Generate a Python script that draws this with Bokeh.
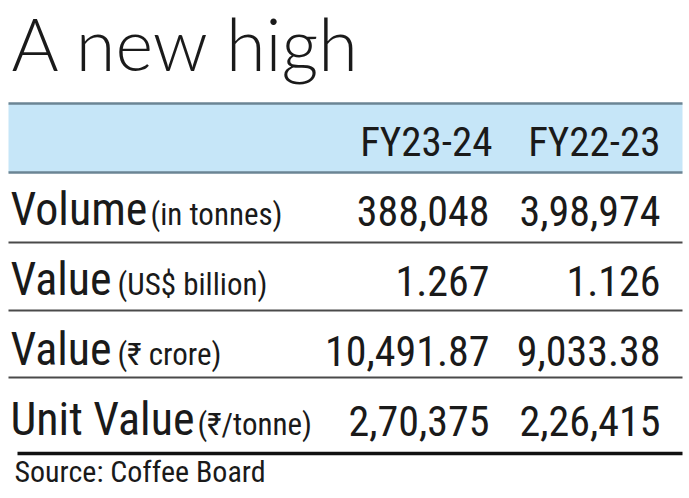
from bokeh.plotting import figure
from bokeh.models import Range1d, ColumnDataSource
from bokeh.core.properties import value
from bokeh.embed import file_html
from bokeh.resources import INLINE

title = "A new high"
columns = ["FY23-24", "FY22-23"]
labels = ["Volume", "Value", "Value", "Unit Value"]
units = ["(in tonnes)", "(US$ billion)", "(₹ crore)", "(₹/tonne)"]
fy2324 = ["388,048", "1.267", "10,491.87", "2,70,375"]
fy2223 = ["3,98,974", "1.126", "9,033.38", "2,26,415"]
source_note = "Source: Coffee Board"

# layout (pixel-like coordinates, y downward)
W, H = 689, 498
unit_x = [150, 117, 117, 197]
row_base = [225, 295, 365, 435]
sep_y = [242, 310, 377]
col_right = [489, 660]
K = 0.35  # baseline correction factor


def yb(base, size):
    return base - K * size


NARROW = "Liberation Sans Narrow, Roboto Condensed, Arial Narrow, sans-serif"
INK = "#1a1a1a"

p = figure(width=W, height=H, x_range=Range1d(0, W), y_range=Range1d(H, 0),
           output_backend="svg", toolbar_location=None, min_border=0)
p.axis.visible = False
p.grid.visible = False
p.outline_line_color = None
p.background_fill_color = "white"
p.border_fill_color = "white"

p.text(x=[11], y=[yb(68, 72)], text=[title], text_font=value("Lato Light, Lato, sans-serif"),
       text_font_size="72px", text_color=INK, text_baseline="alphabetic")

# header band
p.quad(left=[8], right=[682], top=[103], bottom=[172], fill_color="#c6e6f8", line_color=None)
p.segment(x0=[8, 8], x1=[682, 682], y0=[103, 172], y1=[103, 172], line_color="#6b8594", line_width=2.5)

p.text(x=[492, 660], y=[yb(156, 41)] * 2, text=columns, text_font=value(NARROW),
       text_font_size="41px", text_color=INK, text_align="right", text_baseline="alphabetic")

src = ColumnDataSource(dict(lx=[10] * 4, ux=unit_x, lab=labels, unit=units,
                            ly=[yb(b, 46) for b in row_base],
                            uy=[yb(b, 31) for b in row_base],
                            ny=[yb(b, 42) for b in row_base],
                            a=fy2324, b=fy2223, ax=[col_right[0]] * 4, bx=[col_right[1]] * 4))
p.text(x="lx", y="ly", text="lab", source=src, text_font=value(NARROW), text_font_size="46px",
       text_color=INK, text_baseline="alphabetic")
p.text(x="ux", y="uy", text="unit", source=src, text_font=value(NARROW), text_font_size="31px",
       text_color=INK, text_baseline="alphabetic")
p.text(x="ax", y="ny", text="a", source=src, text_font=value(NARROW), text_font_size="42px",
       text_color=INK, text_align="right", text_baseline="alphabetic")
p.text(x="bx", y="ny", text="b", source=src, text_font=value(NARROW), text_font_size="42px",
       text_color=INK, text_align="right", text_baseline="alphabetic")

p.segment(x0=[8] * 3, x1=[682] * 3, y0=sep_y, y1=sep_y, line_color="#4a4a4a", line_width=2)
p.segment(x0=[17], x1=[682], y0=[453], y1=[453], line_color="#111111", line_width=3.5)

p.text(x=[14], y=[yb(481, 30)], text=[source_note], text_font=value(NARROW), text_font_size="30px",
       text_color=INK, text_baseline="alphabetic")

open("out.html", "w").write(file_html(p, INLINE))
